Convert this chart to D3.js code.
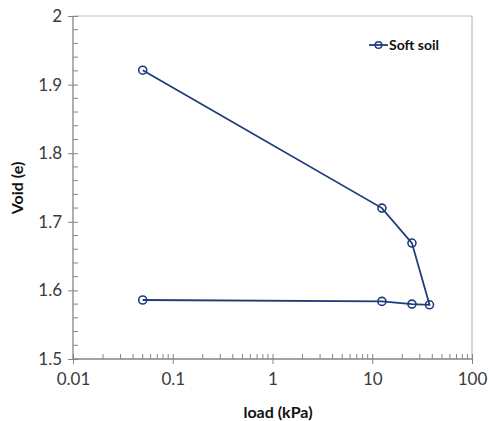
<!DOCTYPE html>
<html>
<head>
<meta charset="utf-8">
<script src="https://cdn.jsdelivr.net/npm/d3@7"></script>
<style>
  body { margin: 0; background: #fff; }
  svg { display: block; font-family: Lato, "Open Sans", sans-serif; }
</style>
</head>
<body>
<div id="chart"></div>
<script>

// readings
const loads = [0.05, 12.5, 25, 37.5, 25, 12.5, 0.05];
const voids = [1.921, 1.720, 1.669, 1.579, 1.580, 1.584, 1.586];
const seriesName = "Soft soil";
const xTicks = [0.01, 0.1, 1, 10, 100];
const yTicks = [1.5, 1.6, 1.7, 1.8, 1.9, 2];

const width = 489, height = 421;
const margin = {top: 16, right: 17, bottom: 62, left: 73};

const lineColor = "#1f3b7c";
const axisColor = "#858585";

var x = d3.scaleLog()
  .domain([0.01, 100])
  .range([margin.left, width - margin.right]);

var y = d3.scaleLinear()
  .domain([1.5, 2])
  .range([height - margin.bottom, margin.top]);

const svg = d3.select("#chart").append("svg")
  .attr("width", width)
  .attr("height", height);

// top and right frame
svg.append("path")
  .attr("d", `M${x(0.01)},${y(2)}H${x(100)}V${y(1.5)}`)
  .attr("fill", "none")
  .attr("stroke", "#bdbdbd")
  .attr("stroke-width", 1.2);

// minor ticks (inside)
var xMinor = [];
for (let dec = 0.01; dec < 100; dec *= 10) {
  for (let k = 2; k <= 9; k++) xMinor.push(dec * k);
}
var yMinor = d3.range(1.5, 2.0001, 0.02).filter(v => Math.abs(v * 10 - Math.round(v * 10)) > 1e-6);

svg.append("g")
  .selectAll("line")
  .data(xMinor)
  .join("line")
  .attr("x1", d => x(d)).attr("x2", d => x(d))
  .attr("y1", y(1.5)).attr("y2", y(1.5) - 5)
  .attr("stroke", axisColor);

svg.append("g")
  .selectAll("line")
  .data(yMinor)
  .join("line")
  .attr("x1", x(0.01)).attr("x2", x(0.01) + 5)
  .attr("y1", d => y(d)).attr("y2", d => y(d))
  .attr("stroke", axisColor);

// axes
var xAxis = d3.axisBottom(x)
  .tickValues(xTicks)
  .tickFormat(d => String(d))
  .tickSize(5)
  .tickPadding(9);

var yAxis = d3.axisLeft(y)
  .tickValues(yTicks)
  .tickFormat(d => String(d))
  .tickSize(5)
  .tickPadding(6);

const gx = svg.append("g")
  .attr("transform", "translate(0," + y(1.5) + ")")
  .call(xAxis);

const gy = svg.append("g")
  .attr("transform", "translate(" + x(0.01) + ",0)")
  .call(yAxis);

[gx, gy].forEach(g => {
  g.select(".domain").attr("stroke", axisColor).attr("stroke-width", 1.3);
  g.selectAll(".tick line").attr("stroke", axisColor);
  g.selectAll(".tick text")
    .attr("fill", "#3a3a3a")
    .style("font-size", "17px")
    .style("font-family", "Lato, sans-serif");
});
// major ticks cross the axis
gx.selectAll(".tick line").attr("y1", -5);
gy.selectAll(".tick line").attr("x1", 5);
gx.select(".domain").attr("d", `M${x(0.01)},0H${x(100)}`);
gy.select(".domain").attr("d", `M0,${y(1.5)}V${y(2)}`);

// axis titles
svg.append("text")
  .attr("x", 278)
  .attr("y", 418)
  .attr("text-anchor", "middle")
  .style("font-size", "16px")
  .style("font-weight", "bold")
  .attr("fill", "#111")
  .text("load (kPa)");

svg.append("text")
  .attr("transform", "translate(23,188) rotate(-90)")
  .attr("text-anchor", "middle")
  .style("font-size", "16px")
  .style("font-weight", "bold")
  .attr("fill", "#111")
  .text("Void (e)");

// series
const pts = loads.map((l, i) => ({load: l, e: voids[i]}));

svg.append("path")
  .datum(pts)
  .attr("fill", "none")
  .attr("stroke", lineColor)
  .attr("stroke-width", 1.8)
  .attr("d", d3.line().x(d => x(d.load)).y(d => y(d.e)));

svg.append("g")
  .selectAll("circle")
  .data(pts)
  .join("circle")
  .attr("cx", d => x(d.load))
  .attr("cy", d => y(d.e))
  .attr("r", 4)
  .attr("fill", "none")
  .attr("stroke", lineColor)
  .attr("stroke-width", 1.6);

// legend
const lg = svg.append("g").attr("transform", "translate(369,45)");
lg.append("line")
  .attr("x1", 0).attr("x2", 19)
  .attr("stroke", lineColor).attr("stroke-width", 1.8);
lg.append("circle")
  .attr("cx", 9.5).attr("r", 3.3)
  .attr("fill", "none").attr("stroke", lineColor).attr("stroke-width", 1.5);
lg.append("text")
  .attr("x", 20).attr("dy", "0.35em")
  .style("font-size", "14px")
  .style("font-weight", "bold")
  .attr("fill", "#111")
  .text(seriesName);

</script>
</body>
</html>
